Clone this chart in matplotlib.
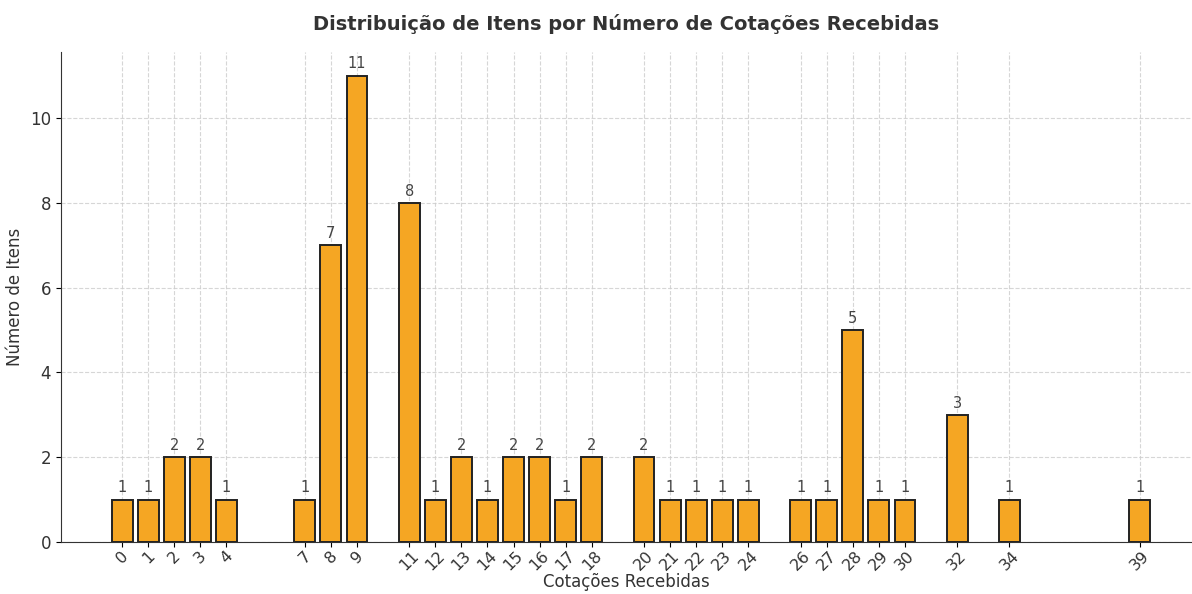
import matplotlib.pyplot as plt

# cotacoes recebidas -> numero de itens
cotacoes = [0, 1, 2, 3, 4, 7, 8, 9, 11, 12, 13, 14, 15, 16, 17, 18, 20, 21, 22, 23, 24,
            26, 27, 28, 29, 30, 32, 34, 39]
itens = [1, 1, 2, 2, 1, 1, 7, 11, 8, 1, 2, 1, 2, 2, 1, 2, 2, 1, 1, 1, 1,
         1, 1, 5, 1, 1, 3, 1, 1]

fig, ax = plt.subplots(figsize=(11.92, 5.94), dpi=100)
fig.subplots_adjust(left=0.051, right=1.0, top=0.912, bottom=0.0875)

bars = ax.bar(cotacoes, itens, width=0.8, color='#F5A623', edgecolor='#222222', linewidth=1.4, zorder=3)

for b, v in zip(bars, itens):
    ax.text(b.get_x() + b.get_width() / 2, v + 0.1, str(v), ha='center', va='bottom',
            fontsize=10.5, color='#444444', zorder=4)

ax.set_xlim(-2.35, 41.0)
ax.set_xticks(cotacoes)
ax.set_xticklabels([str(c) for c in cotacoes], rotation=45, fontsize=11.5, color='#333333')
ax.tick_params(axis='x', pad=1)
ax.tick_params(axis='y', labelsize=12, labelcolor='#333333')
ax.grid(True, linestyle='--', color='#cccccc', linewidth=0.8, alpha=0.8, zorder=0)

ax.set_title('Distribuição de Itens por Número de Cotações Recebidas', fontsize=14,
             fontweight='bold', color='#333333', pad=16)
ax.set_xlabel('Cotações Recebidas', fontsize=12, color='#333333', labelpad=0)
ax.set_ylabel('Número de Itens', fontsize=12, color='#333333')

ax.spines['top'].set_visible(False)
ax.spines['right'].set_visible(False)
ax.spines['left'].set_color('#333333')
ax.spines['bottom'].set_color('#333333')

plt.savefig('out.png')
